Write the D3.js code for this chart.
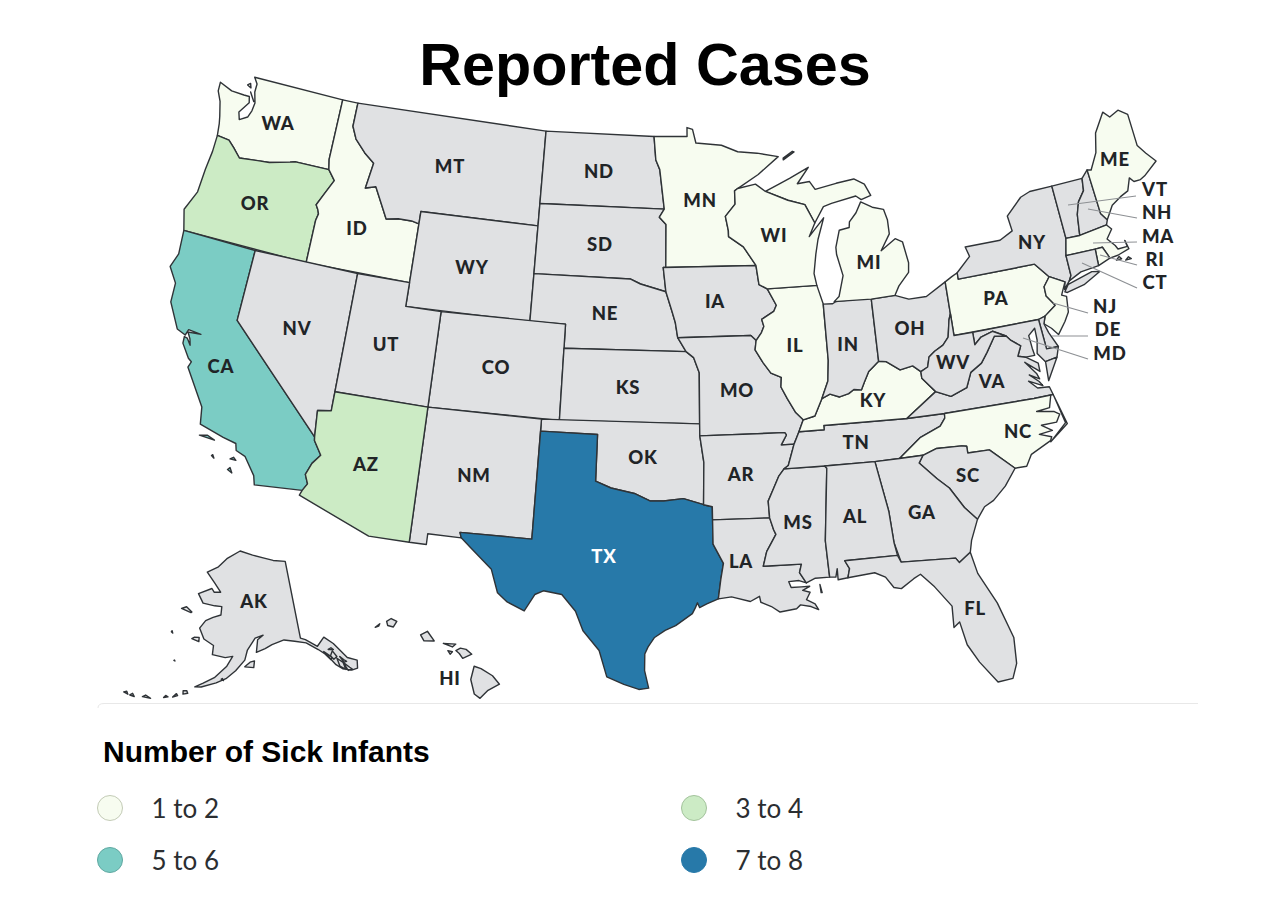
<!DOCTYPE html>
<html>
<head>
<meta charset="utf-8">
<script src="https://cdn.jsdelivr.net/npm/d3@7"></script>
<style>
  html, body { margin: 0; background: #fff; }
  svg { display: block; }
</style>
</head>
<body>
<div id="chart"></div>
<script>
// rivers two states share, so both outlines line up
const rev = a => a.slice().reverse();
const riverIaIl = [[-90.64,42.5],[-90.18,41.8],[-90.35,41.55],[-91.05,41.25],[-90.95,40.95],[-91.1,40.7],[-91.42,40.38]];
const riverMoIl = [[-91.42,40.38],[-91.5,40],[-91.1,39.45],[-90.7,39],[-90.15,38.8],[-90.2,38.4],[-89.9,37.9],[-89.5,37.3],[-89.13,36.98]];
const riverMoKy = [[-89.13,36.98],[-89.4,36.5],[-89.55,36.25],[-89.7,36]];
const riverArTn = [[-89.7,36],[-90.07,35.13],[-90.3,35]];
const riverArMs = [[-90.3,35],[-90.6,34.7],[-90.9,34.2],[-91.2,33.7],[-91.17,33]];
const riverLaMs = [[-91.17,33],[-91,32.5],[-90.9,32.3],[-91.4,31.6],[-91.6,31]];
const riverIlKy = [[-89.13,36.98],[-88.5,37.1],[-88.05,37.8]];
const riverInKy = [[-88.05,37.8],[-87.6,37.95],[-87.1,37.8],[-86.6,37.9],[-86.3,38.05],[-85.9,38],[-85.7,38.3],[-85.4,38.73],[-84.8,39.1]];
const riverOhKy = [[-84.8,39.1],[-84.4,39.05],[-83.7,38.64],[-83,38.73],[-82.6,38.45]];
const riverOhWv = [[-82.6,38.45],[-82.2,38.6],[-82.05,39],[-81.7,39.2],[-81.2,39.4],[-80.85,39.7],[-80.65,40.4],[-80.52,40.64]];
const riverMdVa = [[-76.3,37.95],[-76.9,38.3],[-77.3,38.4],[-77.04,38.8],[-77.5,39.1],[-77.72,39.32]];
const riverKyWv = [[-82.6,38.45],[-82.6,38.17],[-81.97,37.54]];
const ridgeVaWv = [[-81.97,37.54],[-81.2,37.25],[-80.3,37.5],[-79.95,38.1],[-79.3,38.4],[-78.9,38.8],[-78.35,39.4],[-77.72,39.32]];
const riverMdWv = [[-77.72,39.32],[-78.4,39.62],[-79.07,39.47],[-79.48,39.2]];

// state outlines, [lon, lat] rings
const WA = [[[-124.73,48.38],[-123.9,48.17],[-123.1,48.15],[-122.75,48.15],[-122.65,47.9],[-123.1,47.4],[-122.95,47.1],[-122.5,47.3],[-122.35,47.6],[-122.3,47.95],[-122.5,48.4],[-122.5,48.75],[-122.76,49],[-117.03,49],[-117.04,46.42],[-116.92,46],[-118.98,46],[-119.3,45.93],[-120.5,45.7],[-121.2,45.65],[-122.3,45.55],[-122.8,45.9],[-123.2,46.15],[-123.95,46.2],[-124.05,46.7],[-124.15,47],[-124.4,47.6],[-124.7,48]],[[-122.75,48.35],[-122.4,48],[-122.55,48.15]],[[-123.05,48.6],[-122.8,48.52],[-122.9,48.7]]];
const OR = [[[-123.95,46.2],[-123.2,46.15],[-122.8,45.9],[-122.3,45.55],[-121.2,45.65],[-120.5,45.7],[-119.3,45.93],[-118.98,46],[-116.92,46],[-116.46,45.6],[-116.85,45],[-117.2,44.45],[-117.03,44.25],[-116.95,44.1],[-117.03,43.8],[-117.03,42],[-124.21,42],[-124.55,42.84],[-124.1,43.7],[-124.05,44.7],[-123.95,45.5]]];
const ID = [[[-117.03,49],[-116.05,49],[-116.05,48],[-115.7,47.5],[-115,47],[-114.35,46.65],[-114.55,45.56],[-113.95,45.7],[-113.45,45.05],[-113,44.45],[-112.3,44.55],[-111.5,44.55],[-111.05,44.48],[-111.05,42],[-117.03,42],[-117.03,43.8],[-116.95,44.1],[-117.03,44.25],[-117.2,44.45],[-116.85,45],[-116.46,45.6],[-116.92,46],[-117.04,46.42]]];
const MT = [[[-116.05,49],[-104.05,49],[-104.05,45],[-111.05,45],[-111.05,44.48],[-111.5,44.55],[-112.3,44.55],[-113,44.45],[-113.45,45.05],[-113.95,45.7],[-114.55,45.56],[-114.35,46.65],[-115,47],[-115.7,47.5],[-116.05,48]]];
const WY = [[[-111.05,45],[-104.05,45],[-104.05,41],[-111.05,41]]];
const ND = [[[-104.05,49],[-97.23,49],[-97.1,48],[-96.85,47.6],[-96.56,45.94],[-104.05,45.94]]];
const SD = [[[-104.05,45.94],[-96.56,45.94],[-96.85,45.6],[-96.45,45.3],[-96.45,43.5],[-96.6,43.5],[-96.44,42.49],[-97.9,42.8],[-98.5,43],[-104.05,43]]];
const NE = [[[-104.05,43],[-98.5,43],[-97.9,42.8],[-96.44,42.49],[-96.1,41.7],[-95.9,41.2],[-95.77,40.58],[-95.31,40],[-102.05,40],[-102.05,41],[-104.05,41]]];
const CO = [[[-109.05,41],[-102.05,41],[-102.05,37],[-109.05,37]]];
const KS = [[[-102.05,40],[-95.31,40],[-94.9,39.75],[-94.6,39.12],[-94.62,37],[-102.05,37]]];
const OK = [[[-103,37],[-94.62,37],[-94.62,36.5],[-94.43,35.4],[-94.48,33.64],[-95.5,33.9],[-96.5,33.8],[-97.2,33.8],[-98,34.1],[-99.2,34.3],[-100,34.56],[-100,36.5],[-103,36.5]]];
const NM = [[[-109.05,37],[-103,37],[-103.04,32],[-106.62,32],[-106.53,31.78],[-108.2,31.78],[-108.2,31.33],[-109.05,31.33]]];
const TX = [[[-106.53,31.78],[-106.62,32],[-103.04,32],[-103,36.5],[-100,36.5],[-100,34.56],[-99.2,34.3],[-98,34.1],[-97.2,33.8],[-96.5,33.8],[-95.5,33.9],[-94.48,33.64],[-94.04,33.55],[-94.04,33],[-94.04,31.99],[-93.55,31.18],[-93.7,30.5],[-93.84,29.7],[-94.4,29.5],[-94.75,29.35],[-94.85,29.55],[-94.95,29.35],[-95.1,29.1],[-95.9,28.6],[-96.4,28.4],[-96.9,28.1],[-97.2,27.7],[-97.35,27.4],[-97.35,26.7],[-97.15,25.96],[-97.6,25.9],[-98.3,26.1],[-99.1,26.4],[-99.5,27.5],[-100.3,28.3],[-100.7,29.1],[-101.4,29.77],[-102.3,29.88],[-102.7,29.7],[-103.15,28.98],[-104,29.3],[-104.5,29.65],[-104.9,30.6],[-106,31.4]]];
const CA = [[[-124.21,42],[-120,42],[-120,39],[-114.63,35],[-114.6,34.85],[-114.14,34.3],[-114.5,33.9],[-114.72,33.4],[-114.52,33.03],[-114.72,32.72],[-117.12,32.53],[-117.25,32.9],[-117.9,33.6],[-118.4,33.75],[-118.5,34.03],[-119.2,34.15],[-120.5,34.45],[-120.65,35.15],[-121.9,36.6],[-121.8,36.85],[-122,36.96],[-122.5,37.5],[-122.52,37.78],[-122.35,37.75],[-122.1,37.5],[-122.2,37.75],[-122.4,38],[-121.7,38.05],[-122.4,38.1],[-122.5,37.85],[-123,38],[-123.75,39],[-123.8,39.8],[-124.35,40.4],[-124.1,41]],[[-120.4,34],[-119.6,33.95],[-120,34.08]],[[-118.6,33.35],[-118.3,33.35],[-118.45,33.45]],[[-118.6,32.9],[-118.35,32.8],[-118.5,33]],[[-119.55,33.3],[-119.4,33.22],[-119.5,33.35]]];
const NV = [[[-120,42],[-114.04,42],[-114.04,36.2],[-114.75,36.1],[-114.63,35],[-120,39]]];
const UT = [[[-114.04,42],[-111.05,42],[-111.05,41],[-109.05,41],[-109.05,37],[-114.04,37]]];
const AZ = [[[-114.04,37],[-109.05,37],[-109.05,31.33],[-111.07,31.33],[-114.81,32.5],[-114.72,32.72],[-114.52,33.03],[-114.72,33.4],[-114.5,33.9],[-114.14,34.3],[-114.6,34.85],[-114.63,35],[-114.75,36.1],[-114.04,36.2]]];
const MN = [[[-97.23,49],[-95.15,49],[-95.15,49.38],[-94.8,49.3],[-94.6,48.72],[-93,48.6],[-92,48.3],[-90.8,48.2],[-89.5,48],[-90.8,47.3],[-92.1,46.75],[-92.29,46.66],[-92.29,46.1],[-92.9,45.6],[-92.75,45],[-92.75,44.75],[-91.9,44.3],[-91.22,43.5],[-96.45,43.5],[-96.45,45.3],[-96.85,45.6],[-96.56,45.94],[-96.85,47.6],[-97.1,48]]];
const IA = [[[-96.6,43.5],[-91.22,43.5],[-91.1,42.7],...riverIaIl,[-91.7,40.6],[-95.77,40.58],[-95.9,41.2],[-96.1,41.7],[-96.44,42.49]]];
const MO = [[[-95.77,40.58],[-91.7,40.6],...riverMoIl,...riverMoKy,[-90.37,36],[-90.07,36.4],[-90.15,36.5],[-94.62,36.5],[-94.62,37],[-94.6,39.12],[-94.9,39.75],[-95.31,40]]];
const AR = [[[-94.62,36.5],[-90.15,36.5],[-90.07,36.4],[-90.37,36],...riverArTn,...riverArMs,[-94.04,33],[-94.04,33.55],[-94.48,33.64],[-94.43,35.4]]];
const LA = [[[-94.04,33],...riverLaMs,[-89.73,31],[-89.85,30.65],[-89.55,30.2],[-89.9,30.32],[-90.4,30.3],[-90.3,30.05],[-89.8,30.05],[-89.4,30.05],[-89.75,29.9],[-89.4,29.8],[-89.6,29.5],[-89.2,29.3],[-89.05,29.05],[-89.4,29.2],[-89.9,29.3],[-90.1,29.15],[-90.9,29.05],[-91.3,29.3],[-91.8,29.5],[-91.85,29.75],[-92.3,29.55],[-93.2,29.77],[-93.84,29.7],[-93.7,30.5],[-93.55,31.18],[-94.04,31.99]],[[-88.9,30.1],[-88.82,29.75],[-88.87,29.75]]];
const MS = [[[-90.3,35],[-88.2,35],[-88.1,34.9],[-88.47,31.9],[-88.4,30.37],[-89.1,30.37],[-89.55,30.2],[-89.85,30.65],[-89.73,31],...rev(riverLaMs),...rev(riverArMs).slice(1)]];
const TN = [[...rev(riverArTn),[-89.55,36.25],[-89.4,36.5],[-88.07,36.5],[-88.07,36.68],[-83.68,36.6],[-81.68,36.59],[-81.7,36.4],[-82,36.1],[-83.1,35.75],[-84.32,34.99],[-85.6,34.98],[-88.2,35]]];
const KY = [[[-89.4,36.5],[-89.13,36.98],...riverIlKy.slice(1),...riverInKy.slice(1),...riverOhKy.slice(1),...riverKyWv.slice(1),[-83.68,36.6],[-88.07,36.68],[-88.07,36.5]]];
const IL = [[...rev(riverIaIl),[-87.8,42.5],[-87.53,41.7],[-87.53,39.35],[-87.65,38.5],...rev(riverIlKy),...rev(riverMoIl).slice(1,-1)]];
const IN = [[[-87.53,41.7],[-87,41.68],[-86.8,41.76],[-84.8,41.76],...rev(riverInKy),[-87.65,38.5],[-87.53,39.35]]];
const OH = [[[-84.8,41.7],[-83.45,41.73],[-82.7,41.5],[-81.7,41.5],[-80.52,41.98],...rev(riverOhWv),...rev(riverOhKy).slice(1)]];
const MI = [[[-86.9,41.76],[-84.8,41.7],[-83.45,41.73],[-83.15,42.1],[-82.5,42.6],[-82.42,43],[-82.6,43.9],[-83,44.07],[-83.9,43.65],[-83.3,44.3],[-83.3,44.9],[-83.45,45.35],[-84.1,45.5],[-84.75,45.78],[-85.1,45.35],[-85.55,45],[-85.6,44.77],[-86.2,44.7],[-86.5,44],[-86.5,43.7],[-86.25,42.8],[-86.6,41.95]],[[-90.42,46.57],[-89.1,46.14],[-88.1,45.9],[-87.6,45.1],[-87,45.75],[-86.5,45.85],[-85,46.05],[-84.7,45.87],[-84.1,46],[-84.4,46.5],[-85,46.77],[-86.1,46.67],[-87.4,46.5],[-87.7,46.85],[-88.45,46.8],[-87.7,47.45],[-88.9,47.05],[-89.6,46.83]],[[-89.2,47.85],[-88.5,48.15],[-88.6,48.18],[-89.2,47.92]]];
const WI = [[[-92.29,46.66],[-92.1,46.75],[-91,46.9],[-90.42,46.57],[-89.1,46.14],[-88.1,45.9],[-87.6,45.1],[-88,44.55],[-87.05,45.28],[-87.5,44.4],[-87.7,43.8],[-87.9,43],[-87.8,42.5],[-90.64,42.5],[-91.1,42.7],[-91.22,43.5],[-91.9,44.3],[-92.75,44.75],[-92.75,45],[-92.9,45.6],[-92.29,46.1]]];
const PA = [[[-80.52,41.98],[-80.1,42.15],[-79.76,42.27],[-79.76,42],[-75.35,42],[-74.7,41.36],[-75.1,41],[-75.1,40.6],[-74.72,40.15],[-75.4,39.8],[-75.79,39.72],[-80.52,39.72],[-80.52,40.64]]];
const NY = [[[-79.76,42.27],[-79.76,42],[-75.35,42],[-74.7,41.36],[-73.9,41],[-74.02,40.7],[-73.65,41],[-73.49,41.2],[-73.5,42.05],[-73.27,42.75],[-73.35,45.01],[-74.7,45],[-75.3,44.85],[-76.3,44.2],[-76.2,43.55],[-77,43.27],[-79.05,43.27],[-78.9,42.85]],[[-74.03,40.6],[-73.75,40.87],[-72.3,41.15],[-71.87,41.07],[-72.9,40.7],[-73.9,40.55]]];
const VT = [[[-73.35,45.01],[-71.5,45.01],[-71.6,44.5],[-72.05,44.1],[-72.3,43.6],[-72.46,42.73],[-73.27,42.75]]];
const NH = [[[-71.5,45.01],[-71.08,45.3],[-70.98,43.4],[-70.7,43.07],[-70.82,42.87],[-72.46,42.73],[-72.3,43.6],[-72.05,44.1],[-71.6,44.5]]];
const ME = [[[-71.08,45.3],[-70.85,45.25],[-70.3,45.9],[-70,46.7],[-69.23,47.46],[-68.9,47.18],[-68.3,47.36],[-67.8,47.07],[-67.8,45.7],[-67.45,45.3],[-67,44.85],[-67.9,44.4],[-68.2,44.3],[-68.6,44.3],[-68.8,44.5],[-69.1,44],[-69.6,43.85],[-70.2,43.6],[-70.7,43.07],[-70.98,43.4]]];
const MA = [[[-73.5,42.05],[-73.27,42.75],[-72.46,42.73],[-70.82,42.87],[-70.6,42.65],[-71,42.3],[-70.65,41.95],[-70.55,41.78],[-70,41.78],[-70.05,42.05],[-69.95,41.67],[-70.65,41.53],[-71.13,41.5],[-71.2,41.67],[-71.38,42.02],[-71.8,42.02]],[[-70.3,41.25],[-69.97,41.25],[-70.1,41.35]],[[-70.8,41.35],[-70.5,41.35],[-70.6,41.47]]];
const RI = [[[-71.8,42.02],[-71.38,42.02],[-71.2,41.67],[-71.13,41.5],[-71.85,41.32]]];
const CT = [[[-73.5,42.05],[-71.8,42.02],[-71.85,41.32],[-72.9,41.25],[-73.65,41],[-73.49,41.2]]];
const NJ = [[[-74.7,41.36],[-73.9,41],[-74.25,40.5],[-74,40.4],[-74.1,39.75],[-74.4,39.4],[-74.9,38.93],[-75.2,39.25],[-75.55,39.5],[-75.4,39.8],[-74.72,40.15],[-75.1,40.6],[-75.1,41]]];
const DE = [[[-75.79,39.72],[-75.4,39.8],[-75.55,39.5],[-75.4,39.1],[-75.05,38.45],[-75.7,38.46]]];
const MD = [[[-79.48,39.72],[-75.79,39.72],[-75.7,38.46],[-75.05,38.45],[-75.25,38.03],[-75.9,37.95],[-76.25,38.35],[-76.1,38.9],[-76.1,39.4],[-76.5,39.15],[-76.45,38.6],[-76.4,38.3],...riverMdVa.slice(1),...riverMdWv.slice(1)]];
const VA = [[[-83.68,36.6],...ridgeVaWv,...rev(riverMdVa).slice(1),[-76.3,37.6],[-77,38.1],[-76.5,37.55],[-76.4,37.3],[-76.9,37.55],[-76.45,37.2],[-76.3,37],[-77,37.3],[-76.6,36.95],[-75.98,36.9],[-75.87,36.55],[-76.9,36.55],[-81.68,36.59]],[[-75.9,37.95],[-75.25,38.03],[-75.95,37.15]]];
const WV = [[[-80.52,40.64],[-80.52,39.72],[-79.48,39.72],...rev(riverMdWv),...rev(ridgeVaWv).slice(1),...rev(riverKyWv).slice(1),...riverOhWv.slice(1)]];
const NC = [[[-84.32,34.99],[-83.1,35.75],[-82,36.1],[-81.7,36.4],[-81.68,36.59],[-76.9,36.55],[-76,36.55],[-76.2,36.05],[-76.9,36],[-76,35.85],[-75.75,35.7],[-76,35.4],[-76.8,35.4],[-76.3,35.1],[-77,35.05],[-76.4,34.85],[-76.5,34.7],[-77.6,34.3],[-77.95,33.85],[-78.55,33.86],[-79.68,34.8],[-80.8,34.82],[-80.8,35.1],[-81.05,35.15],[-82.35,35.2],[-83.1,35]],[[-75.87,36.55],[-75.47,35.25],[-76.5,34.65],[-75.55,35.3],[-75.8,36.3]]];
const SC = [[[-83.1,35],[-82.35,35.2],[-81.05,35.15],[-80.8,35.1],[-80.8,34.82],[-79.68,34.8],[-78.55,33.86],[-79.2,33.2],[-79.9,32.7],[-80.4,32.5],[-80.85,32.03],[-81.4,32.6],[-82,33.5],[-82.55,33.95],[-83.35,34.7]]];
const GA = [[[-85.6,34.98],[-84.32,34.99],[-83.1,35],[-83.35,34.7],[-82.55,33.95],[-82,33.5],[-81.4,32.6],[-80.85,32.03],[-81.3,31.2],[-81.45,30.72],[-82.05,30.36],[-82.2,30.57],[-84.86,30.7],[-85.1,31.55],[-85.18,32.87]]];
const AL = [[[-88.2,35],[-85.6,34.98],[-85.18,32.87],[-85.1,31.55],[-85,31],[-87.6,31],[-87.4,30.65],[-87.52,30.28],[-88,30.23],[-88,30.7],[-88.1,30.35],[-88.4,30.37],[-88.47,31.9],[-88.1,34.9]]];
const FL = [[[-87.6,31],[-85,31],[-84.86,30.7],[-82.2,30.57],[-82.05,30.36],[-81.45,30.72],[-81.25,29.8],[-80.55,28.45],[-80.05,26.9],[-80.12,25.8],[-80.4,25.2],[-81.1,25.15],[-81.8,26.1],[-82.25,26.9],[-82.45,27.9],[-82.75,27.7],[-82.7,28.6],[-83.4,29.5],[-84,30.1],[-84.35,29.95],[-85,29.6],[-85.35,29.68],[-85.7,30.15],[-86.2,30.38],[-87.52,30.28],[-87.4,30.65]]];
const AK = [[[-141,69.65],[-141,60.3],[-139.9,60],[-137.5,58.9],[-135.5,59.75],[-133.8,58.7],[-131.8,56.6],[-130,55.9],[-130.5,55],[-131.8,55],[-133.5,55.5],[-134.6,56.2],[-135.8,57.5],[-137.5,58.5],[-139.9,59.6],[-142.5,60.05],[-145,60.4],[-148,60],[-149.7,59.6],[-151.8,59.2],[-151.4,60.7],[-150,61.2],[-152,60.9],[-153.9,59.5],[-154.5,58.3],[-156.5,57],[-158.5,56],[-160.5,55.4],[-163.5,54.7],[-164.8,54.6],[-163.2,55.2],[-161,56],[-158.5,57.5],[-157.3,58.7],[-159,58.5],[-162,58.7],[-162,59.8],[-164.5,60.4],[-166,61.6],[-164.8,62.6],[-163,63.1],[-161,63.5],[-161,64.5],[-163,64.5],[-166.3,64.6],[-168.1,65.6],[-164.5,66.5],[-163.7,66.1],[-161.8,66.2],[-163.9,67.2],[-166.8,68.35],[-163.5,69.2],[-161,70.3],[-156.5,71.35],[-152,70.85],[-148,70.4],[-145,70]],
  [[-154.5,57.5],[-152.5,57.4],[-152.3,58.2],[-153.3,58.05]],[[-171.7,63.4],[-169,63.2],[-168.8,63.3],[-170.5,63.75]],[[-167.4,60.2],[-165.6,60],[-165.7,60.5],[-166.9,60.4]],
  [[-166.9,53.5],[-166,53.7],[-166.3,54],[-167,53.9]],[[-168.8,52.9],[-167.9,53.2],[-168.2,53.4]],[[-170.5,52.6],[-169.7,52.8],[-170.2,52.9]],[[-174.5,52],[-172.9,52.1],[-174,52.3]],[[-176.9,51.7],[-176,51.7],[-176.5,52]],[[-178.2,51.8],[-177.3,51.7],[-177.7,52]],
  [[-134.5,57.9],[-133.9,57.1],[-134.7,56.9],[-135.2,57.4]],[[-136.4,58.1],[-135,57.2],[-135.3,56.9],[-136.2,57.7]],[[-134,56.9],[-133,56.2],[-132.9,55.3],[-133.9,55.9]],[[-133,56.2],[-132,55.4],[-131.6,55.1],[-132.5,55.1]],[[-133.3,57],[-132.7,56.5],[-132.2,56.2],[-132.8,56.2]],[[-134.6,58.3],[-134.2,58],[-135.3,58.2]],
  [[-159.5,55.9],[-159,55.75],[-159.3,56]],[[-172.6,60.4],[-172.2,60.3],[-172.5,60.55]],[[-170.3,57.2],[-170.05,57.15],[-170.2,57.25]]];
const HI = [[[-155.9,20.25],[-155.6,20.15],[-155.1,19.85],[-154.8,19.5],[-155.3,19.25],[-155.65,18.92],[-155.9,19.1],[-156.05,19.7]],[[-156.7,20.9],[-156.5,21],[-156.25,20.95],[-156,20.75],[-156.4,20.58],[-156.55,20.78]],[[-157.25,21.2],[-156.7,21.17],[-156.85,21.05]],[[-157.05,20.9],[-156.85,20.85],[-156.95,20.75]],[[-158.25,21.55],[-157.95,21.7],[-157.65,21.3],[-158.1,21.3]],[[-159.75,22.1],[-159.55,22.22],[-159.3,22.1],[-159.45,21.87],[-159.7,21.93]],[[-160.25,21.85],[-160.05,22],[-160.1,21.9]]];

const states = { WA, OR, ID, MT, WY, ND, SD, NE, CO, KS, OK, NM, TX, CA, NV, UT, AZ, MN, IA, MO, AR, LA, MS, TN, KY, IL, IN, OH, MI, WI, PA, NY, VT, NH, ME, MA, RI, CT, NJ, DE, MD, VA, WV, NC, SC, GA, AL, FL, AK, HI };

// reported cases, one list per legend band
const bandLabels = ['1 to 2', '3 to 4', '5 to 6', '7 to 8'];
const band1 = ['WA', 'ID', 'MN', 'WI', 'MI', 'IL', 'KY', 'NC', 'PA', 'NJ', 'ME', 'MA', 'RI'];
const band2 = ['OR', 'AZ'];
const band3 = ['CA'];
const band4 = ['TX'];
const bandStates = [band1, band2, band3, band4];

const bandColors = ['#f7fcf0', '#ccebc5', '#7bccc4', '#2779a9'];
const bandRims = ['#c3cbb6', '#a3c39c', '#5fa8a1', '#2779a9'];
const noCases = '#e0e1e3';

const color = d3.scaleOrdinal().domain(bandLabels).range(bandColors).unknown(noCases);
const bandOf = id => { const i = bandStates.findIndex(b => b.includes(id)); return i < 0 ? null : bandLabels[i]; };

const width = 1285, height = 900;

const lower48 = d3.geoAlbers().rotate([96, 0]).center([-0.6, 38.7]).scale(1368).translate([662.5, 383]);
const alaska = d3.geoConicEqualArea().rotate([154, 0]).center([0, 62]).parallels([55, 65]).scale(480).translate([247, 629]);
const hawaii = d3.geoConicEqualArea().rotate([157, 0]).center([0, 20.8]).parallels([8, 18]).scale(1390).translate([449, 653]);
const projectionFor = id => id === 'AK' ? alaska : id === 'HI' ? hawaii : lower48;

// d3-geo wants clockwise rings, mine are not all that way round
function toFeature(id) {
  const rings = states[id].map(r => {
    const ring = r.concat([r[0]]);
    return d3.geoArea({ type: 'Polygon', coordinates: [ring] }) > 2 * Math.PI ? ring.slice().reverse() : ring;
  });
  return { type: 'MultiPolygon', coordinates: rings.map(r => [r]) };
}

const svg = d3.select('#chart').append('svg').attr('width', width).attr('height', height);

svg.append('text')
  .attr('x', 645).attr('y', 85)
  .attr('text-anchor', 'middle')
  .style('font', 'bold 59.3px "Liberation Sans", Arial, sans-serif')
  .text('Reported Cases');

svg.append('g').selectAll('path')
  .data(Object.keys(states))
  .join('path')
  .attr('d', id => d3.geoPath(projectionFor(id))(toFeature(id)))
  .attr('fill', id => color(bandOf(id)))
  .attr('stroke', '#2f3337')
  .attr('stroke-width', 1.4)
  .attr('stroke-linejoin', 'round');

// leader lines for the small north-east states
const leaders = [
  [1068, 205, 1136, 196], [1088, 209, 1137, 218], [1093, 243, 1137, 242], [1100, 255, 1137, 265],
  [1082, 263, 1137, 288], [1053, 303, 1088, 313], [1052, 336, 1088, 336], [1023, 338, 1088, 359]
];
svg.append('g').selectAll('line')
  .data(leaders)
  .join('line')
  .attr('x1', d => d[0]).attr('y1', d => d[1]).attr('x2', d => d[2]).attr('y2', d => d[3])
  .attr('stroke', '#8d9094').attr('stroke-width', 1.2);

const labelAt = {
  WA: [278, 123], OR: [255, 203], CA: [221, 366], ID: [357, 228], NV: [297, 328], MT: [450, 166], WY: [472, 267],
  UT: [386, 344], AZ: [366, 464], CO: [496, 367], NM: [474, 475], ND: [599, 171], SD: [600, 244], NE: [605, 313],
  KS: [628, 387], OK: [643, 457], TX: [604, 556], MN: [700, 200], IA: [715, 301], MO: [737, 390], AR: [741, 474],
  LA: [741, 561], WI: [774, 235], IL: [795, 345], MS: [798, 522], AL: [855, 516], MI: [869, 262], IN: [848, 344],
  KY: [873, 400], TN: [856, 442], GA: [922, 512], FL: [975, 608], OH: [910, 328], WV: [953, 362], VA: [992, 381],
  NC: [1018, 431], SC: [968, 475], PA: [996, 298], NY: [1032, 242], ME: [1115, 159], VT: [1155, 189], NH: [1157, 212],
  MA: [1158, 236], RI: [1155, 259], CT: [1155, 282], NJ: [1105, 306], DE: [1108, 329], MD: [1110, 353], AK: [254, 601], HI: [450, 678]
};
svg.append('g').selectAll('text')
  .data(Object.keys(labelAt))
  .join('text')
  .attr('x', id => labelAt[id][0]).attr('y', id => labelAt[id][1])
  .attr('text-anchor', 'middle').attr('dy', '0.36em')
  .attr('fill', id => id === 'TX' ? '#fff' : '#212427')
  .style('font', '900 18.5px Lato, sans-serif')
  .style('letter-spacing', '0.8px')
  .text(id => id);

// legend
svg.append('path')
  .attr('d', 'M98,708 Q98,703.5 104,703.5 H1198')
  .attr('fill', 'none').attr('stroke', '#e8e8e8').attr('stroke-width', 1);

svg.append('text')
  .attr('x', 103).attr('y', 762)
  .style('font', 'bold 30px "Liberation Sans", Arial, sans-serif')
  .text('Number of Sick Infants');

const legendX = d3.scalePoint().domain([0, 1]).range([110, 694]);
const legendY = d3.scalePoint().domain([0, 1]).range([808, 860]);
const legend = svg.append('g').selectAll('g')
  .data(bandLabels)
  .join('g')
  .attr('transform', (d, i) => `translate(${legendX(i % 2)},${legendY(i >> 1)})`);
legend.append('circle')
  .attr('r', 12.5)
  .attr('fill', d => color(d))
  .attr('stroke', (d, i) => bandRims[i]);
legend.append('text')
  .attr('x', 41.5).attr('y', 1).attr('dy', '0.36em')
  .attr('fill', '#2b2e31')
  .style('font', '400 26px Lato, sans-serif')
  .text(d => d);
</script>
</body>
</html>
